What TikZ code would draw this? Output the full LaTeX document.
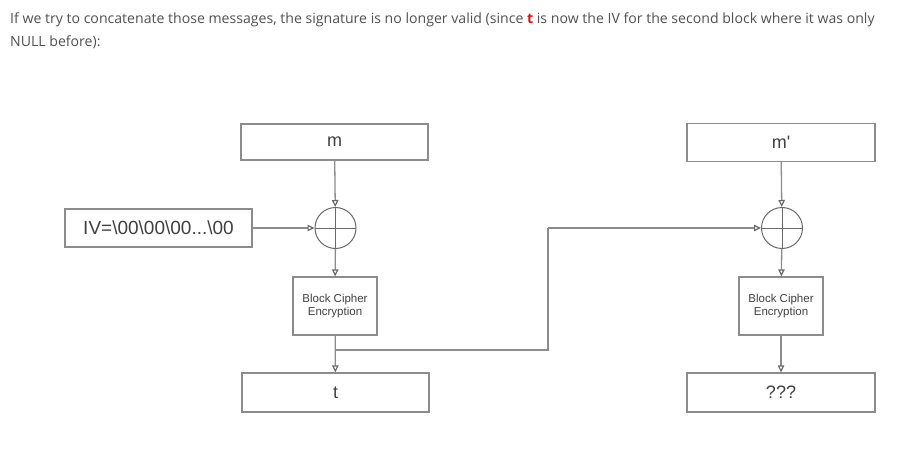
\documentclass[tikz,border=0pt]{standalone}
\usepackage{fontspec}
\setmainfont{Liberation Sans}
\newfontfamily\headfont{Open Sans}
\usepackage{xcolor}
\definecolor{Col1}{RGB}{140,140,140}
\definecolor{Col2}{RGB}{105,105,105}
\definecolor{Txt}{RGB}{80,80,80}
\definecolor{Red1}{RGB}{214,20,20}
\usepackage{tikz}
\usetikzlibrary{arrows.meta}
\tikzstyle{Box}=[rectangle,draw=Col1,line width=1.3pt,inner sep=0pt,
text=black!75,font=\fontsize{18}{20}\selectfont]
\tikzstyle{Xor}=[circle,draw=Col2,line width=1pt,minimum size=41pt,inner sep=0pt,
path picture={\draw[Col2,line width=1pt](path picture bounding box.north)--
(path picture bounding box.south)(path picture bounding box.west)--
(path picture bounding box.east);}]
\tikzstyle{Edge}=[draw=Col1,line width=1.3pt,
-{Triangle[open,length=7pt,width=6.5pt,line width=1.2pt,color=Col2]}]
\tikzstyle{Line}=[draw=Col1,line width=1.3pt]
\tikzstyle{Head}=[anchor=base west,text=Txt,inner sep=0pt,
font=\headfont\fontsize{14.1}{16}\selectfont]
\tikzstyle{Cipher}=[Box,minimum width=84pt,minimum height=58pt,align=center,
font=\fontsize{11.5}{13}\selectfont]

\begin{document}
\begin{tikzpicture}[x=1pt,y=-1pt]
            \useasboundingbox(0,0)rectangle(907,449);
            \node[Head](h1)at(10,24){If we try to concatenate those messages, the
                signature is no longer valid (since \textcolor{Red1}{\textbf{t}} is
                now the IV for the second block where it was only};
            \node[Head](h2)at(10,47){NULL before):};
            % first block
            \node[Box,minimum width=187pt,minimum height=36pt](m)at(334.5,142){m};
            \node[Box,minimum width=187pt,minimum height=38pt,
                font=\fontsize{19}{21}\selectfont](iv)at(158.5,228)
                {IV=\textbackslash 00\textbackslash 00\textbackslash 00...\textbackslash 00};
            \node[Xor](x1)at(335.5,228){};
            \node[Cipher](c1)at(335,306){Block Cipher\\Encryption};
            \node[Box,minimum width=187pt,minimum height=39pt](t)at(335.5,392.5){t};
            % second block
            \node[Box,minimum width=188pt,minimum height=38pt](m2)at(781,142.5)
                {m\textquotesingle};
            \node[Xor](x2)at(782,228){};
            \node[Cipher](c2)at(781,306){Block Cipher\\Encryption};
            \node[Box,minimum width=188pt,minimum height=39pt](q)at(781,392.5){???};
            \coordinate(br)at(335,350);
            \coordinate(bend)at(548,228);
            \draw[Edge](m)--(x1);
            \draw[Edge](iv)--(x1);
            \draw[Edge](x1)--(c1);
            \draw[Edge](c1)--(t);
            \draw[Line](br)-|(bend);
            \draw[Edge](bend)--(x2);
            \draw[Edge](m2)--(x2);
            \draw[Edge](x2)--(c2);
            \draw[Edge](c2)--(q);
        \end{tikzpicture}
\end{document}
